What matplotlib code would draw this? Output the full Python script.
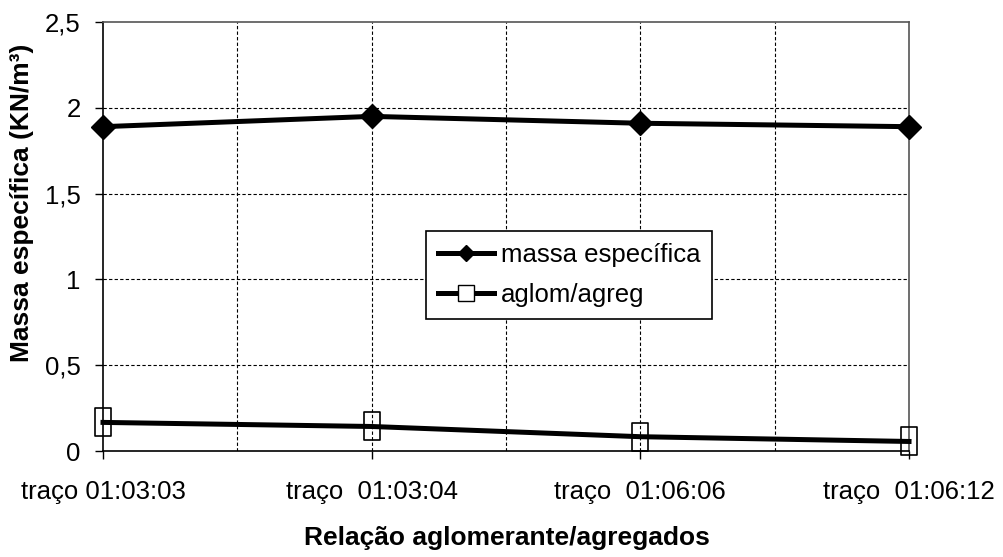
import matplotlib
matplotlib.use("Agg")
import matplotlib.pyplot as plt
from matplotlib.lines import Line2D
from matplotlib.path import Path
import numpy as np

# data
tracos = ["traço 01:03:03", "traço  01:03:04", "traço  01:06:06", "traço  01:06:12"]
massa_especifica = [1.89, 1.95, 1.91, 1.89]
aglom_agreg = [1 / 6, 1 / 7, 1 / 12, 1 / 18]
y_ticks = [0, 0.5, 1, 1.5, 2, 2.5]
y_tick_labels = ["0", "0,5", "1", "1,5", "2", "2,5"]

plt.rcParams["font.family"] = ["Liberation Sans", "DejaVu Sans"]
FS = 18.5
FS_LABEL = 19

# tall open rectangle used as marker for aglom/agreg
rect = Path([(-0.3, -0.5), (0.3, -0.5), (0.3, 0.5), (-0.3, 0.5), (-0.3, -0.5)],
            [Path.MOVETO, Path.LINETO, Path.LINETO, Path.LINETO, Path.CLOSEPOLY])

fig = plt.figure(figsize=(10.04, 5.57), dpi=100)
ax = fig.add_axes([0.1026, 0.1903, 0.8028, 0.7702])

x = np.arange(len(tracos))
ax.plot(x, massa_especifica, color="black", linewidth=3.6, marker="D",
        markersize=12.5, markerfacecolor="black", markeredgecolor="black",
        zorder=4, clip_on=False)
ax.plot(x, aglom_agreg, color="black", linewidth=3.6, marker=rect,
        markersize=19.5, markerfacecolor="none", markeredgecolor="black",
        markeredgewidth=1.2, zorder=4, clip_on=False)

ax.set_xlim(0, len(tracos) - 1)
ax.set_ylim(0, 2.5)

ax.set_yticks(y_ticks)
ax.set_yticklabels(y_tick_labels, fontsize=FS)
ax.set_xticks(x)
ax.set_xticklabels(tracos, fontsize=FS)
ax.tick_params(axis="y", direction="out", length=6, width=1, pad=10)
ax.tick_params(axis="x", direction="out", length=6, width=1, pad=15)

# dashed grid, vertical lines every half category
for gy in [0.5, 1, 1.5, 2]:
    ax.axhline(gy, color="black", linestyle=(0, (3, 2)), linewidth=0.8, zorder=1)
for gx in np.arange(0.5, len(tracos) - 1, 0.5):
    ax.axvline(gx, color="black", linestyle=(0, (3, 2)), linewidth=0.8, zorder=1)

for side in ["left", "bottom"]:
    ax.spines[side].set_color("black")
    ax.spines[side].set_linewidth(1.2)
for side in ["top", "right"]:
    ax.spines[side].set_color("#555555")
    ax.spines[side].set_linewidth(1.2)

fig.text(22 / 1004, 1 - 203 / 557, "Massa específica (KN/m³)", rotation=90,
         ha="center", va="center", fontsize=FS_LABEL, fontweight="bold")
fig.text(507 / 1004, 1 - 538 / 557, "Relação aglomerante/agregados",
         ha="center", va="center", fontsize=FS_LABEL, fontweight="bold")

handles = [
    Line2D([], [], color="black", linewidth=3.6, marker="D", markersize=8.5,
           markerfacecolor="black"),
    Line2D([], [], color="black", linewidth=3.6, marker="s", markersize=12,
           markerfacecolor="white", markeredgecolor="black", markeredgewidth=1.0),
]
leg = fig.legend(handles, ["massa específica", "aglom/agreg"], loc="upper left",
                 bbox_to_anchor=(426 / 1004, 1 - 231 / 557), fontsize=FS,
                 frameon=True, fancybox=False, framealpha=1, edgecolor="black",
                 handlelength=2.2, handletextpad=0.25, labelspacing=0.65,
                 borderpad=0.45, borderaxespad=0)
leg.get_frame().set_linewidth(1.2)

fig.savefig("out.png", dpi=100)
